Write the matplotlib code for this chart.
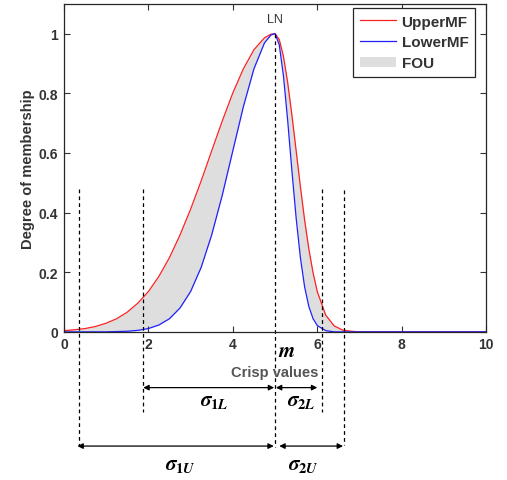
import matplotlib.pyplot as plt
import numpy as np
from matplotlib.patches import Patch
from matplotlib.lines import Line2D

plt.rcParams['font.family'] = ['Liberation Sans', 'DejaVu Sans']
# bold italic serif for the math symbols
plt.rcParams['mathtext.fontset'] = 'custom'
plt.rcParams['mathtext.it'] = 'STIXGeneral:italic:bold'
plt.rcParams['mathtext.rm'] = 'STIXGeneral:bold'
plt.rcParams['mathtext.bf'] = 'STIXGeneral:italic:bold'

# crisp values and membership grades of the interval type-2 set
crisp = [0, 0.25, 0.5, 0.75, 1.0, 1.25, 1.5, 1.75, 2.0, 2.25, 2.5, 2.75, 3.0, 3.25,
         3.5, 3.75, 4.0, 4.25, 4.5, 4.75, 4.9, 5.0, 5.1, 5.2, 5.3, 5.4, 5.5, 5.6,
         5.7, 5.8, 5.9, 6.0, 6.2, 6.4, 6.6, 6.8, 7.0, 10]
upper_mf = [0.004, 0.007, 0.011, 0.018, 0.029, 0.044, 0.066, 0.096, 0.135, 0.186,
            0.249, 0.325, 0.411, 0.506, 0.607, 0.707, 0.801, 0.882, 0.946, 0.986,
            0.998, 1.0, 0.980, 0.923, 0.835, 0.726, 0.607, 0.487, 0.375, 0.278,
            0.198, 0.135, 0.056, 0.020, 0.006, 0.002, 0.0, 0.0]
lower_mf = [0.0, 0.0, 0.0, 0.0, 0.0, 0.001, 0.002, 0.005, 0.011, 0.023,
            0.044, 0.080, 0.135, 0.216, 0.325, 0.458, 0.607, 0.755, 0.882, 0.969,
            0.995, 1.0, 0.962, 0.857, 0.707, 0.539, 0.381, 0.249, 0.151, 0.085,
            0.044, 0.021, 0.004, 0.0, 0.0, 0.0, 0.0, 0.0]

m = 5.0
# spread markers: left/right ends of the lower and upper MF
left_upper, left_lower = 0.36, 1.88
right_lower, right_upper = 6.12, 6.64

txt = '#333333'

fig = plt.figure(figsize=(5.07, 4.81), dpi=100)
ax = fig.add_axes([0.126, 0.308, 0.833, 0.682])

ax.fill_between(crisp, lower_mf, upper_mf, color='#dedede', lw=0)
ax.plot(crisp, upper_mf, color='#ff2020', lw=0.9)
ax.plot(crisp, lower_mf, color='#2020ff', lw=0.9)

ax.set_xlim(0, 10)
ax.set_ylim(0, 1.1)
ax.set_xticks([0, 2, 4, 6, 8, 10])
ax.set_yticks([0, 0.2, 0.4, 0.6, 0.8, 1])
ax.set_yticklabels(['0', '0.2', '0.4', '0.6', '0.8', '1'])
ax.tick_params(direction='in', top=True, right=True, length=4, width=0.8,
               labelsize=10, colors=txt, pad=4)
for lab in ax.get_xticklabels() + ax.get_yticklabels():
    lab.set_fontweight('bold')
for sp in ax.spines.values():
    sp.set_color('#262626')
    sp.set_linewidth(0.9)

ax.set_ylabel('Degree of membership', fontsize=10.5, fontweight='bold', color=txt, labelpad=3)
ax.text(m, -0.133, 'Crisp values', ha='center', va='center', fontsize=10.5,
        fontweight='bold', color='#555555', clip_on=False)

ax.text(m, 1.05, 'LN', ha='center', va='center', fontsize=9, color=txt)
ax.text(5.28, -0.062, r'$m$', ha='center', va='center', fontsize=15, clip_on=False)

# dashed guides, running below the axes
dash = dict(color='black', ls=(0, (3, 2.5)), lw=0.9, clip_on=False)
ax.plot([m, m], [1.0, -0.385], **dash)
ax.plot([left_upper, left_upper], [0.48, -0.38], **dash)
ax.plot([left_lower, left_lower], [0.48, -0.27], **dash)
ax.plot([right_lower, right_lower], [0.48, -0.27], **dash)
ax.plot([right_upper, right_upper], [0.475, -0.38], **dash)

arrow = dict(arrowstyle='<|-|>', color='black', lw=0.9, mutation_scale=8,
             shrinkA=0, shrinkB=0)
spans = [(left_lower, m - 0.02, -0.187), (m + 0.02, right_lower - 0.12, -0.187),
         (left_upper - 0.04, m - 0.03, -0.383), (m + 0.1, right_upper - 0.03, -0.383)]
for x0, x1, y in spans:
    ax.annotate('', xy=(x1, y), xytext=(x0, y), arrowprops=arrow, annotation_clip=False)

labels = [(3.55, -0.229, r'$\sigma_{1L}$'),
          (5.63, -0.229, r'$\sigma_{2L}$'),
          (2.75, -0.445, r'$\sigma_{1U}$'),
          (5.67, -0.445, r'$\sigma_{2U}$')]
for x, y, s in labels:
    ax.text(x, y, s, ha='center', va='center', fontsize=15, clip_on=False)

handles = [Line2D([], [], color='#ff2020', lw=0.9),
           Line2D([], [], color='#2020ff', lw=0.9),
           Patch(facecolor='#dedede', edgecolor='none')]
leg = ax.legend(handles, ['UpperMF', 'LowerMF', 'FOU'], loc='upper right',
                bbox_to_anchor=(0.974, 0.988), borderaxespad=0, fancybox=False,
                edgecolor='#262626', framealpha=1, handlelength=2.4,
                prop={'weight': 'bold', 'size': 11}, labelspacing=0.45,
                borderpad=0.45, handletextpad=0.35)
leg.get_frame().set_linewidth(0.9)
for t in leg.get_texts():
    t.set_color(txt)

fig.savefig('out.png', dpi=100)
